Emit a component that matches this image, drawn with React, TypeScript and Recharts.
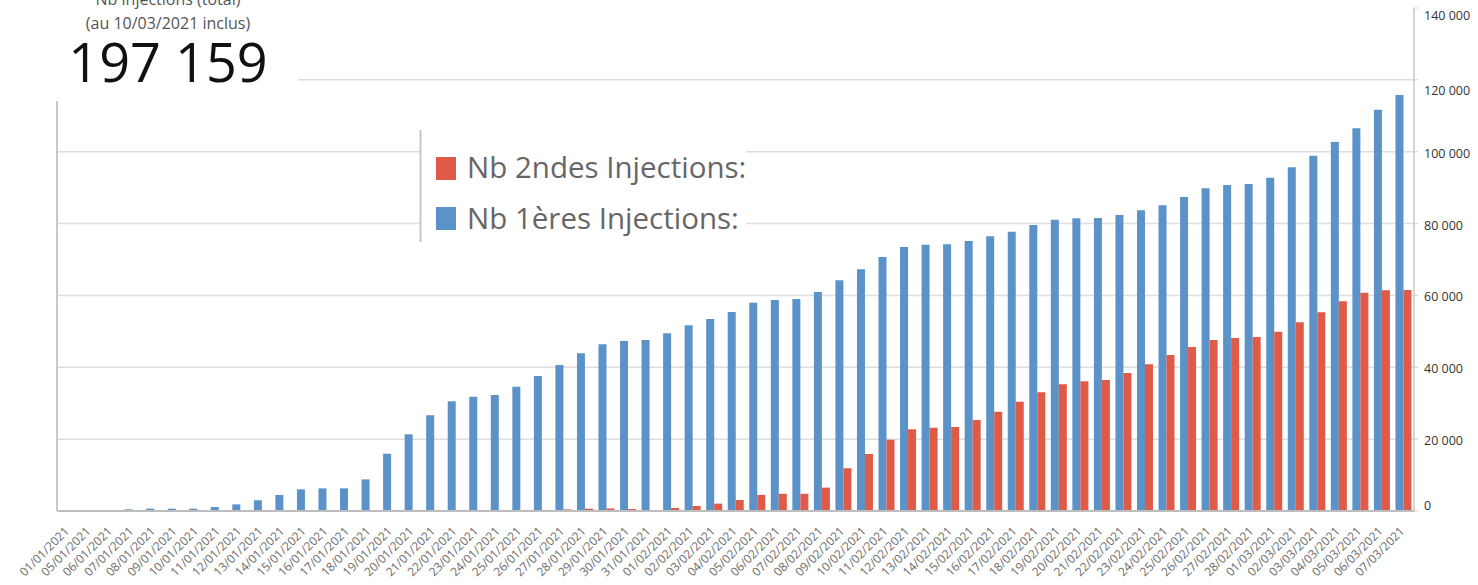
import React from "react";
import { BarChart, Bar, XAxis, YAxis, CartesianGrid } from "recharts";

const dates = [
  "01/01/2021", "05/01/2021", "06/01/2021", "07/01/2021", "08/01/2021", "09/01/2021", "10/01/2021",
  "11/01/2021", "12/01/2021", "13/01/2021", "14/01/2021", "15/01/2021", "16/01/2021", "17/01/2021",
  "18/01/2021", "19/01/2021", "20/01/2021", "21/01/2021", "22/01/2021", "23/01/2021", "24/01/2021",
  "25/01/2021", "26/01/2021", "27/01/2021", "28/01/2021", "29/01/2021", "30/01/2021", "31/01/2021",
  "01/02/2021", "02/02/2021", "03/02/2021", "04/02/2021", "05/02/2021", "06/02/2021", "07/02/2021",
  "08/02/2021", "09/02/2021", "10/02/2021", "11/02/2021", "12/02/2021", "13/02/2021", "14/02/2021",
  "15/02/2021", "16/02/2021", "17/02/2021", "18/02/2021", "19/02/2021", "20/02/2021", "21/02/2021",
  "22/02/2021", "23/02/2021", "24/02/2021", "25/02/2021", "26/02/2021", "27/02/2021", "28/02/2021",
  "01/03/2021", "02/03/2021", "03/03/2021", "04/03/2021", "05/03/2021", "06/03/2021", "07/03/2021",
];

const premieresInjections = [
  150, 150, 200, 470, 650, 650, 650,
  1100, 1850, 2970, 4450, 6030, 6300, 6300,
  8800, 15950, 21340, 26630, 30520, 31820, 32280,
  34600, 37570, 40630, 43880, 46390, 47310, 47590,
  49450, 51670, 53430, 55380, 57970, 58720, 59000,
  60950, 64200, 67260, 70690, 73470, 74120, 74220,
  75140, 76440, 77730, 79600, 81070, 81450, 81540,
  82380, 83680, 85070, 87390, 89800, 90720, 91000,
  92760, 95650, 98880, 102690, 106500, 111690, 115770,
];

const secondesInjections = [
  0, 0, 0, 0, 0, 0, 0,
  0, 0, 0, 0, 0, 250, 0,
  250, 300, 300, 300, 300, 300, 300,
  300, 300, 450, 650, 700, 550, 0,
  830, 1400, 2050, 3060, 4500, 4800, 4800,
  6500, 11900, 15860, 19840, 22740, 23180, 23380,
  25300, 27600, 30420, 33030, 35250, 36090, 36460,
  38410, 40820, 43410, 45640, 47590, 48150, 48420,
  49900, 52510, 55300, 58360, 60760, 61420, 61500,
];

const yTicks = [0, 20000, 40000, 60000, 80000, 100000, 120000, 140000];

const titleLines = ["Nb injections (total)", "(au 10/03/2021 inclus)"];
const totalLabel = "197 159";
const legendLabels = ["Nb 2ndes Injections:", "Nb 1ères Injections:"];

const BLUE = "#5B93C8";
const RED = "#E05A48";
const FONT = "'Open Sans', 'Noto Sans', sans-serif";

const data = dates.map((d, i) => ({
  date: d,
  premieres: premieresInjections[i],
  secondes: secondesInjections[i],
}));

const fmt = (v: number) => String(v).replace(/\B(?=(\d{3})+(?!\d))/g, " ");

const XTick = (props: any) => {
  const { x, y, payload } = props;
  const ax = x + 2;
  const ay = y + 21;
  return (
    <text
      x={ax}
      y={ay}
      transform={`rotate(-45 ${ax} ${ay})`}
      textAnchor="end"
      fontSize={12}
      fontFamily={FONT}
      fill="#6b6b6b"
    >
      {payload.value}
    </text>
  );
};

const YTick = (props: any) => {
  const { x, y, payload } = props;
  const v = payload.value;
  const dy = v === 140000 ? 12 : v === 120000 ? 15 : v === 0 ? -1 : 6;
  return (
    <text x={x} y={y + dy} textAnchor="start" fontSize={12.5} fontFamily={FONT} fill="#333">
      {fmt(v)}
    </text>
  );
};

export default function App() {
  return (
    <div style={{ position: "relative", width: 1478, height: 585, background: "#fff" }}>
      <style>{`html,body{margin:0;padding:0;overflow:hidden;background:#fff}`}</style>
      <BarChart
        width={1478}
        height={585}
        data={data}
        margin={{ top: 8, right: 0, bottom: 0, left: 0 }}
        barGap={0}
        barSize={8}
      >
        <CartesianGrid
          yAxisId="right"
          vertical={false}
          stroke="#dedede"
          strokeWidth={1.5}
          horizontalValues={[20000, 40000, 60000, 80000, 100000, 120000]}
        />
        <XAxis
          dataKey="date"
          interval={0}
          tickLine={false}
          tickSize={0}
          tickMargin={0}
          height={74}
          axisLine={{ stroke: "#bdbdbd", strokeWidth: 2 }}
          tick={<XTick />}
        />
        <YAxis
          yAxisId="left"
          orientation="left"
          width={57}
          domain={[0, 140000]}
          tick={false}
          tickLine={false}
          axisLine={{ stroke: "#c8c8c8", strokeWidth: 2 }}
        />
        <YAxis
          yAxisId="right"
          orientation="right"
          width={64}
          domain={[0, 140000]}
          ticks={yTicks}
          interval={0}
          tickSize={4}
          tickMargin={6}
          tickLine={{ stroke: "#d0d0d0" }}
          axisLine={{ stroke: "#c8c8c8", strokeWidth: 1.5 }}
          tick={<YTick />}
        />
        <Bar yAxisId="right" dataKey="premieres" fill={BLUE} isAnimationActive={false} />
        <Bar yAxisId="right" dataKey="secondes" fill={RED} isAnimationActive={false} />
      </BarChart>
      <svg
        width={1478}
        height={585}
        style={{ position: "absolute", left: 0, top: 0, pointerEvents: "none" }}
      >
        <defs>
          <clipPath id="legendClip">
            <rect x={420} y={128} width={326} height={116} />
          </clipPath>
        </defs>
        <rect x={0} y={0} width={298} height={101} fill="#fff" />
        <text x={168} y={5} textAnchor="middle" fontSize={16} fontFamily={FONT} fill="#555">
          {titleLines[0]}
        </text>
        <text x={168} y={29} textAnchor="middle" fontSize={16} fontFamily={FONT} fill="#555">
          {titleLines[1]}
        </text>
        <text x={168} y={82} textAnchor="middle" fontSize={54} fontFamily={FONT} fill="#111">
          {totalLabel}
        </text>
        <rect x={420} y={130} width={326} height={112} fill="#fff" />
        <line x1={420.5} y1={130} x2={420.5} y2={242} stroke="#c8c8c8" strokeWidth={2} />
        <g clipPath="url(#legendClip)">
          <rect x={436} y={157} width={20} height={23} fill={RED} />
          <text x={467} y={178} fontSize={29.5} fontFamily={FONT} fill="#666">
            {legendLabels[0]}
          </text>
          <rect x={436} y={207} width={20} height={23} fill={BLUE} />
          <text x={467} y={229} fontSize={29.5} fontFamily={FONT} fill="#666">
            {legendLabels[1]}
          </text>
        </g>
      </svg>
    </div>
  );
}
